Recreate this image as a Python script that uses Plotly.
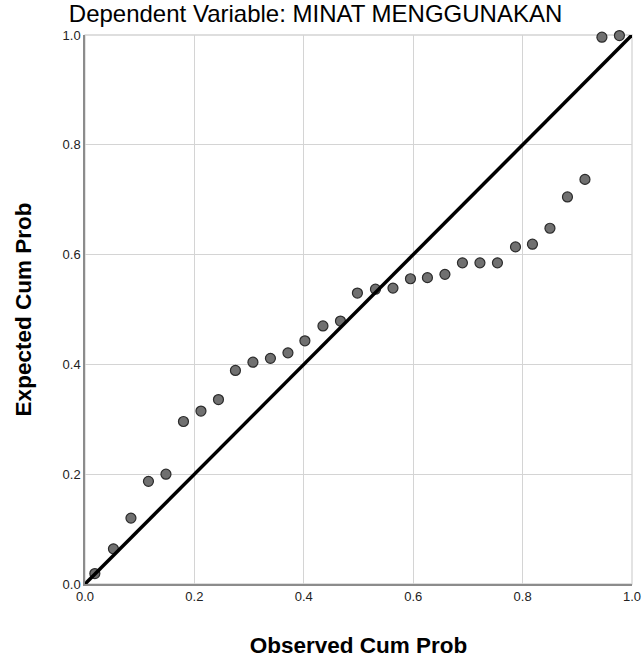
import plotly.graph_objects as go

observed = [0.018, 0.052, 0.084, 0.116, 0.148, 0.180, 0.212, 0.244, 0.275, 0.307,
            0.339, 0.371, 0.402, 0.435, 0.467, 0.498, 0.531, 0.563, 0.595, 0.626,
            0.658, 0.690, 0.722, 0.754, 0.787, 0.818, 0.850, 0.882, 0.914, 0.945, 0.977]
expected = [0.019, 0.064, 0.120, 0.187, 0.200, 0.296, 0.315, 0.336, 0.389, 0.404,
            0.411, 0.421, 0.443, 0.470, 0.479, 0.530, 0.537, 0.539, 0.556, 0.558,
            0.564, 0.585, 0.585, 0.585, 0.614, 0.619, 0.648, 0.705, 0.737, 0.996, 0.999]
ref_line = [0.0, 1.0]
tick_vals = [0.0, 0.2, 0.4, 0.6, 0.8, 1.0]
tick_text = ["0.0", "0.2", "0.4", "0.6", "0.8", "1.0"]

fig = go.Figure()
fig.add_trace(go.Scatter(
    x=observed, y=expected, mode="markers",
    marker=dict(size=10, color="#707070", line=dict(color="#2b2b2b", width=1.2)),
    cliponaxis=False, showlegend=False))
fig.add_trace(go.Scatter(
    x=ref_line, y=ref_line, mode="lines",
    line=dict(color="#000000", width=3.5), cliponaxis=False, showlegend=False))

axis_common = dict(
    range=[0, 1], tickvals=tick_vals, ticktext=tick_text,
    showgrid=True, gridcolor="#d4d4d4", gridwidth=1.3,
    zeroline=False, showline=True, linecolor="#8c8c8c", linewidth=1.5,
    ticks="", tickfont=dict(family="Arial, Liberation Sans", size=13, color="#222222"),
    mirror=False, automargin=False,
)

fig.update_layout(
    width=644, height=658,
    margin=dict(l=85, r=12, t=35, b=74),
    paper_bgcolor="white", plot_bgcolor="white",
    title=dict(text="Dependent Variable: MINAT MENGGUNAKAN",
               font=dict(family="Arial, Liberation Sans", size=24, color="#000000"),
               x=0.49, xanchor="center", y=0.98, yanchor="middle"),
    xaxis=dict(**axis_common,
               title=dict(text="<b>Observed Cum Prob</b>", standoff=34,
                          font=dict(family="Arial, Liberation Sans", size=22.5, color="#000000"))),
    yaxis=dict(**axis_common,
               title=dict(text="<b>Expected Cum Prob</b>", standoff=25,
                          font=dict(family="Arial, Liberation Sans", size=22.5, color="#000000"))),
    shapes=[dict(type="rect", xref="paper", yref="paper", x0=0, y0=0, x1=1, y1=1,
                 line=dict(color="#d4d4d4", width=1.3), layer="below")],
)

fig.write_html("out.html", config={"displayModeBar": False},
               post_script="document.body.style.margin='0';document.body.style.overflow='hidden';")
